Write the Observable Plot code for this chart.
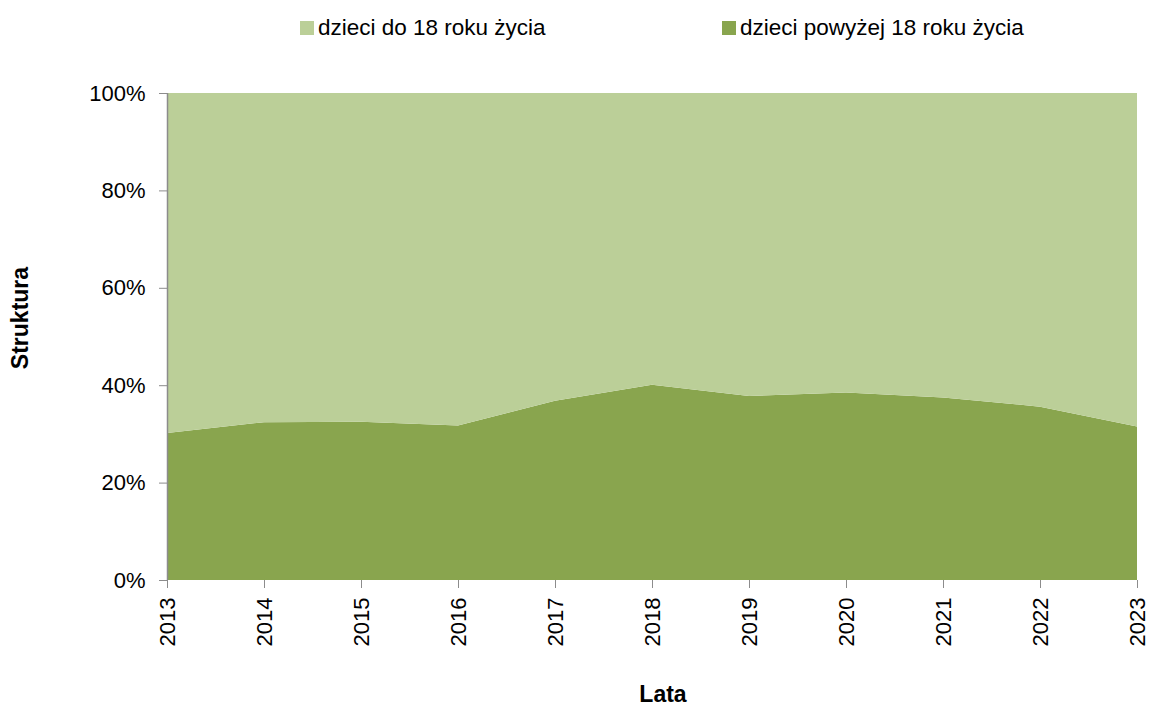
<!DOCTYPE html>
<html>
<head>
<meta charset="utf-8">
<script src="https://cdn.jsdelivr.net/npm/d3@7"></script>
<script src="https://cdn.jsdelivr.net/npm/@observablehq/plot@0.6"></script>
<style>
  body { margin: 0; background: #fff; font-family: "Liberation Sans", Arial, sans-serif; }
  #wrap { position: relative; width: 1150px; height: 709px; }
  #legend { position: relative; height: 60px; width: 1150px; }
  .li { position: absolute; top: 14px; font-size: 22.5px; line-height: 28px; color: #000; display: flex; align-items: center; white-space: nowrap; }
  .sw { width: 14px; height: 14px; margin-right: 4px; display: inline-block; }
  g[aria-label="y-axis tick"], g[aria-label="x-axis tick"] { stroke: #8c8c8c; }
</style>
</head>
<body>
<div id="wrap">
  <div id="legend"></div>
  <div id="chart"></div>
</div>
<script>
const years = [2013, 2014, 2015, 2016, 2017, 2018, 2019, 2020, 2021, 2022, 2023];
const seriesNames = ["dzieci powyżej 18 roku życia", "dzieci do 18 roku życia"];
const over18 = [30.2, 32.4, 32.5, 31.7, 36.8, 40.1, 37.8, 38.5, 37.5, 35.6, 31.5];
const under18 = [69.8, 67.6, 67.5, 68.3, 63.2, 59.9, 62.2, 61.5, 62.5, 64.4, 68.5];
const colors = ["#89A54E", "#BBCF98"];
const yTicks = [0, 20, 40, 60, 80, 100];
const legendOrder = ["dzieci do 18 roku życia", "dzieci powyżej 18 roku życia"];
const legendX = [300, 722];

const data = [];
years.forEach((yr, i) => {
  data.push({year: yr, series: seriesNames[0], value: over18[i]});
  data.push({year: yr, series: seriesNames[1], value: under18[i]});
});

const legend = document.getElementById("legend");
legendOrder.forEach((name, i) => {
  const item = document.createElement("div");
  item.className = "li";
  item.style.left = legendX[i] + "px";
  const sw = document.createElement("span");
  sw.className = "sw";
  sw.style.background = colors[seriesNames.indexOf(name)];
  item.appendChild(sw);
  item.appendChild(document.createTextNode(name));
  legend.appendChild(item);
});

const chart = Plot.plot({
  width: 1150,
  height: 649,
  marginLeft: 167,
  marginRight: 13,
  marginTop: 33,
  marginBottom: 129,
  style: { fontFamily: "Liberation Sans, Arial, sans-serif", fontSize: "22px", color: "#000", background: "#fff" },
  x: { domain: [2013, 2023], ticks: years, label: null },
  y: { domain: [0, 100], ticks: yTicks, label: null },
  color: { domain: seriesNames, range: colors },
  marks: [
    Plot.areaY(data, Plot.stackY({order: seriesNames}, {x: "year", y: "value", fill: "series"})),
    Plot.ruleX([2013], {stroke: "#8c8c8c", strokeWidth: 1.5}),
    Plot.axisY({ticks: yTicks, tickFormat: d => d + "%", tickSize: 8, tickPadding: 14, label: null, fontSize: 22}),
    Plot.axisX({ticks: years, tickFormat: d => String(d), tickSize: 8, tickPadding: 9, tickRotate: -90, label: null, fontSize: 22})
  ]
});
document.getElementById("chart").appendChild(chart);

const svg = d3.select(chart);
svg.append("text")
  .attr("transform", "translate(28,258) rotate(-90)")
  .attr("text-anchor", "middle")
  .attr("font-size", 23)
  .attr("font-weight", "bold")
  .attr("fill", "#000")
  .text("Struktura");
svg.append("text")
  .attr("x", 663)
  .attr("y", 642)
  .attr("text-anchor", "middle")
  .attr("font-size", 23)
  .attr("font-weight", "bold")
  .attr("fill", "#000")
  .text("Lata");
</script>
</body>
</html>
